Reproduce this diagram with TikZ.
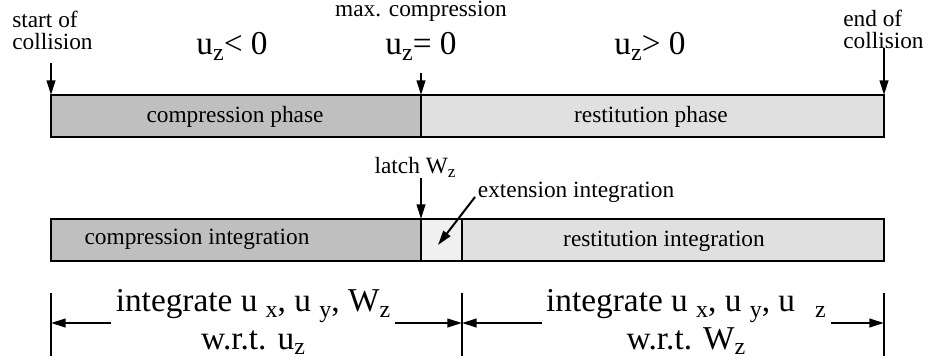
\documentclass[tikz,border=0pt]{standalone}
\usepackage{fontspec}
\setmainfont{Liberation Serif}
\usetikzlibrary{arrows.meta}
\definecolor{compfill}{gray}{0.75}
\definecolor{restfill}{gray}{0.88}
\definecolor{extfill}{gray}{0.94}
\newcommand{\smtxt}{\fontsize{17.5}{16}\selectfont}
\newcommand{\bigtxt}{\fontsize{25}{28}\selectfont}
\newcommand{\lowsub}[2][-4pt]{\raisebox{#1}{\fontsize{18}{18}\selectfont #2}}
\newcommand{\smsub}[1]{\raisebox{-3pt}{\fontsize{13}{13}\selectfont #1}}
\tikzset{
  bar/.style={draw, line width=2pt},
  arr/.style={line width=1.5pt, -{Triangle[length=11pt,width=6.5pt]}},
  tick/.style={line width=1.5pt},
  lbl/.style={font=\smtxt},
  big/.style={font=\bigtxt},
}
\begin{document}
\begin{tikzpicture}[x=0.75pt,y=-0.75pt]
  \useasboundingbox (0,0) rectangle (930,360);
  % collision phases
  \draw[bar, fill=compfill] (51,95) rectangle (421,137);
  \draw[bar, fill=restfill] (421,95) rectangle (884,137);
  \coordinate (p0) at (51,95);
  \coordinate (p1) at (421,95);
  \coordinate (p2) at (884,95);
  \node[lbl, anchor=base] (cphase) at (235,122) {compression phase};
  \node[lbl, anchor=base] (rphase) at (651,122) {restitution phase};
  \node[lbl, align=left, anchor=north west, inner sep=0] (start) at (12,11) {start of\\collision};
  \node[lbl, align=left, anchor=north west, inner sep=0] (finish) at (843,10) {end of\\collision};
  \node[lbl, anchor=base] (maxc) at (421,17) {max. compression};
  \node[big, anchor=base] (uneg) at (232,55) {u\lowsub{z}< 0};
  \node[big, anchor=base] (uzero) at (421,55) {u\lowsub{z}= 0};
  \node[big, anchor=base] (upos) at (650,55) {u\lowsub{z}> 0};
  \coordinate (sa) at (51,63);
  \coordinate (ma) at (421,73);
  \coordinate (ea) at (884,48);
  \draw[arr] (sa) -- (p0);
  \draw[arr] (ma) -- (p1);
  \draw[arr] (ea) -- (p2);
  % integration steps
  \draw[bar, fill=compfill] (51,219) rectangle (421,261);
  \draw[bar, fill=extfill] (421,219) rectangle (462,261);
  \draw[bar, fill=restfill] (462,219) rectangle (884,261);
  \coordinate (q1) at (421,219);
  \coordinate (qe) at (438,245);
  \node[lbl, anchor=base] (cint) at (197,244) {compression integration};
  \node[lbl, anchor=base] (rint) at (664,246) {restitution integration};
  \node[lbl, anchor=base] (latch) at (415,173) {latch W\smsub{z}};
  \node[lbl, anchor=base west, inner sep=2pt] (extlbl) at (475,197) {extension integration};
  \coordinate (la) at (421,178);
  \draw[arr] (la) -- (q1);
  \draw[arr] (extlbl.base west) -- (qe);
  % dimension lines
  \coordinate (ta) at (51,323);
  \coordinate (tb) at (462,323);
  \coordinate (tc) at (884,323);
  \foreach \t in {ta,tb,tc}
    \draw[tick] (\t) ++(0,-30) -- ++(0,63);
  \node[big, align=center] (intc) at (253,322)
    {integrate u \lowsub[-4.5pt]{x}, u \lowsub[-4.5pt]{y}, W\lowsub[-4.5pt]{z}\\w.r.t. u\lowsub{z}};
  \node[big, align=center] (intr) at (686,322)
    {integrate u \lowsub[-4.5pt]{x}, u \lowsub[-4.5pt]{y}, u\hspace{0.6em}\lowsub[-4.5pt]{z}\\w.r.t. W\lowsub{z}};
  \draw[arr] (intc.west |- ta) -- (ta);
  \draw[arr] (intc.east |- tb) -- (tb);
  \draw[arr] (intr.west |- tb) -- (tb);
  \draw[arr] (intr.east |- tc) -- (tc);
\end{tikzpicture}
\end{document}
